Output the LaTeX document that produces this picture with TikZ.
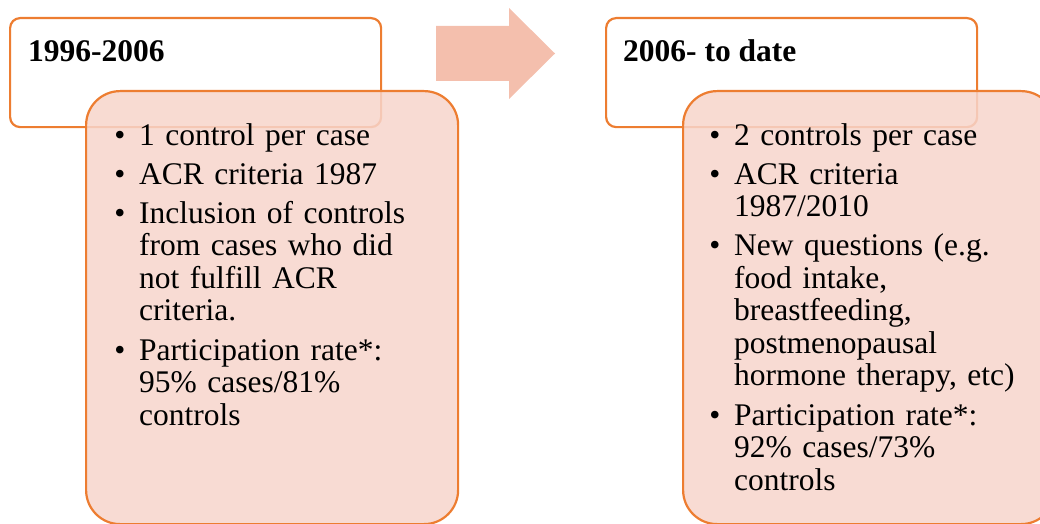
\documentclass[tikz,border=0pt]{standalone}
\usepackage{fontspec}
\setmainfont{Liberation Serif}
\definecolor{orangeline}{HTML}{ED7D31}
\definecolor{pinkfill}{HTML}{F7D5CB}
\definecolor{arrowfill}{HTML}{F4BFAD}
\begin{document}
\begin{tikzpicture}[x=1pt,y=-1pt,
  periodbox/.style={draw=orangeline, line width=2.2pt, fill=white, rounded corners=10pt,
    anchor=north west, minimum width=371pt, minimum height=109pt, inner sep=0pt},
  detailbox/.style={draw=orangeline, line width=2.2pt, fill=pinkfill, fill opacity=0.85,
    rounded corners=34pt, anchor=north west, minimum width=372pt, minimum height=433pt, inner sep=0pt},
  titletext/.style={font=\bfseries\fontsize{31.5}{32.5}\selectfont, anchor=base west, inner sep=0pt},
  bodytext/.style={font=\fontsize{31.5}{32.5}\selectfont, anchor=base west, inner sep=0pt,
    text width=300pt, align=left},
  bulletmark/.style={font=\fontsize{31.5}{32.5}\selectfont, anchor=base, inner sep=0pt}]
\useasboundingbox (0,0) rectangle (1040,524);
% arrow
\fill[arrowfill] (436,26) -- (509,26) -- (509,8) -- (555,53.5) -- (509,99) -- (509,81) -- (436,81) -- cycle;
% left column
\node[periodbox] (p1) at (9,17) {};
\node[titletext] (t1) at (28,62) {1996-2006};
\node[detailbox] (d1) at (85,90) {};
\node[bulletmark] (b1a) at (120,145) {•};
\node[bodytext] (i1a) at (139,145) {1 control per case};
\node[bulletmark] (b1b) at (120,184.2) {•};
\node[bodytext] (i1b) at (139,184.2) {ACR criteria 1987};
\node[bulletmark] (b1c) at (120,223.4) {•};
\node[bodytext] (i1c) at (139,223.4) {Inclusion of controls\\from cases who did\\not fulfill ACR\\criteria.};
\node[bulletmark] (b1d) at (120,360.1) {•};
\node[bodytext] (i1d) at (139,360.1) {Participation rate*:\\95\% cases/81\%\\controls};
% right column
\node[periodbox] (p2) at (605,17) {};
\node[titletext] (t2) at (623,62) {2006- to date};
\node[detailbox] (d2) at (682,90) {};
\node[bulletmark] (b2a) at (715,145) {•};
\node[bodytext] (i2a) at (734,145) {2 controls per case};
\node[bulletmark] (b2b) at (715,184.2) {•};
\node[bodytext] (i2b) at (734,184.2) {ACR criteria\\1987/2010};
\node[bulletmark] (b2c) at (715,255.9) {•};
\node[bodytext] (i2c) at (734,255.9) {New questions (e.g.\\food intake,\\breastfeeding,\\postmenopausal\\hormone therapy, etc)};
\node[bulletmark] (b2d) at (715,425.1) {•};
\node[bodytext] (i2d) at (734,425.1) {Participation rate*:\\92\% cases/73\%\\controls};
\end{tikzpicture}
\end{document}
